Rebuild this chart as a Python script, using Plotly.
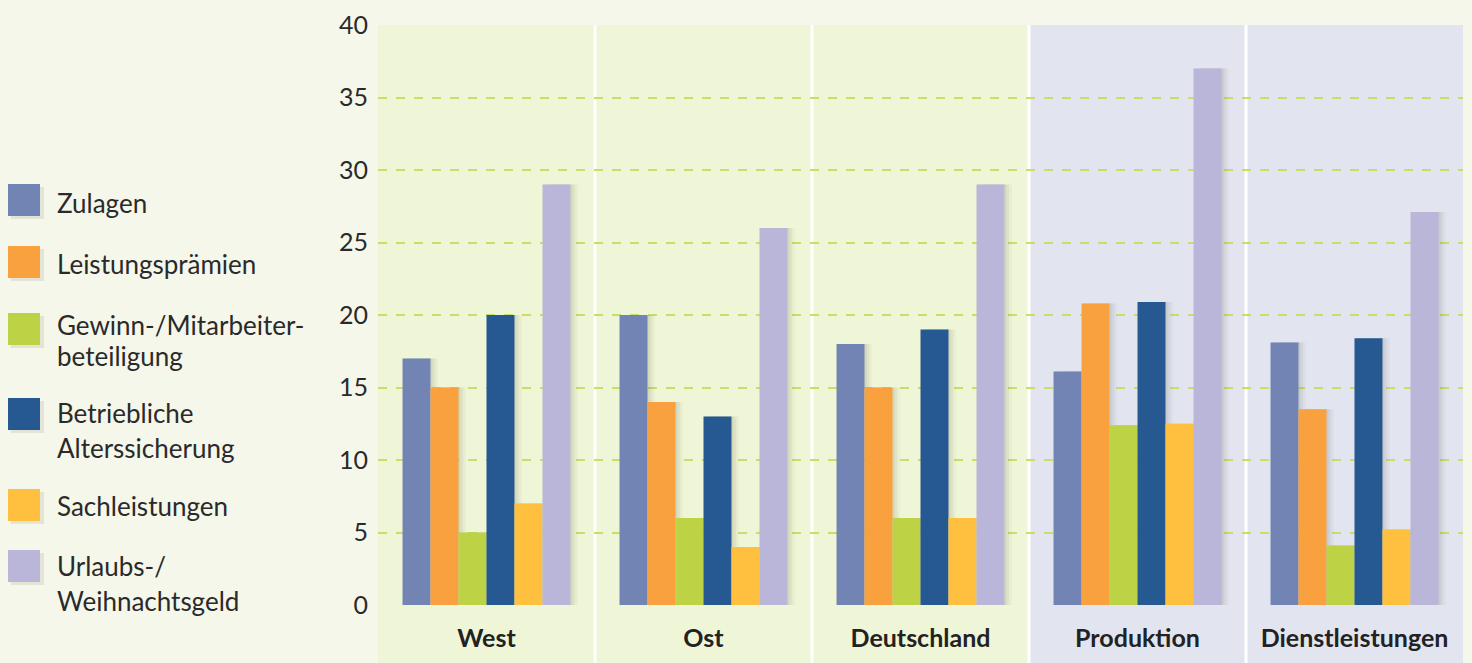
import plotly.graph_objects as go

categories = ["West", "Ost", "Deutschland", "Produktion", "Dienstleistungen"]
series_names = ["Zulagen", "Leistungsprämien", "Gewinn-/Mitarbeiter-\nbeteiligung",
                "Betriebliche\nAlterssicherung", "Sachleistungen", "Urlaubs-/\nWeihnachtsgeld"]
zulagen = [17, 20, 18, 16.1, 18.1]
leistungspraemien = [15, 14, 15, 20.8, 13.5]
gewinnbeteiligung = [5, 6, 6, 12.4, 4.1]
alterssicherung = [20, 13, 19, 20.9, 18.4]
sachleistungen = [7, 4, 6, 12.5, 5.2]
urlaubsgeld = [29, 26, 29, 37, 27.1]
series_values = [zulagen, leistungspraemien, gewinnbeteiligung, alterssicherung, sachleistungen, urlaubsgeld]
y_ticks = [0, 5, 10, 15, 20, 25, 30, 35, 40]

colors = ["#7284B4", "#F9A03F", "#BDD245", "#265891", "#FFC040", "#B9B6DA"]
FONT = "Lato, sans-serif"
W, H = 1472, 663
ML, MR, MT, MB = 378, 9, 25, 58
PH = H - MT - MB

bw = 0.129
fig = go.Figure()
n = len(series_values)
# soft shadows
for i, vals in enumerate(series_values):
    for d, a in [(0.010, 0.07), (0.022, 0.06), (0.034, 0.04)]:
        fig.add_trace(go.Bar(x=categories, y=vals, width=bw, offset=-n / 2 * bw + i * bw + d,
                             marker=dict(color=f"rgba(70,70,40,{a})", line=dict(width=0)),
                             hoverinfo="skip", showlegend=False))
for i, vals in enumerate(series_values):
    fig.add_trace(go.Bar(x=categories, y=vals, width=bw, offset=-n / 2 * bw + i * bw,
                         name=series_names[i].replace("\n", " "),
                         marker=dict(color=colors[i], line=dict(width=0)), showlegend=False))

shapes = []
bottom = -MB / PH
shapes.append(dict(type="rect", xref="x", yref="paper", x0=-0.5, x1=2.5, y0=bottom, y1=1,
                   fillcolor="#EFF5D7", line=dict(width=0), layer="below"))
shapes.append(dict(type="rect", xref="x", yref="paper", x0=2.5, x1=4.5, y0=bottom, y1=1,
                   fillcolor="#E2E5F0", line=dict(width=0), layer="below"))
for xb in [0.5, 1.5, 2.5, 3.5]:
    shapes.append(dict(type="line", xref="x", yref="paper", x0=xb, x1=xb, y0=bottom, y1=1,
                       line=dict(color="white", width=3), layer="below"))

# custom legend
def py(p):
    return (H - MB - p) / PH
def px(p):
    return (p - ML) / (W - ML - MR)

sq_centers = [200, 262, 329, 414, 505, 566]
text_lines_y = [[203], [264], [325, 356], [413, 448], [506], [566, 601]]
annotations = []
for i, name in enumerate(series_names):
    c = sq_centers[i]
    shapes.append(dict(type="rect", xref="paper", yref="paper", x0=px(11), x1=px(44),
                       y0=py(c + 19), y1=py(c - 13), fillcolor="rgba(70,70,40,0.10)", line=dict(width=0)))
    shapes.append(dict(type="rect", xref="paper", yref="paper", x0=px(8), x1=px(40),
                       y0=py(c + 16), y1=py(c - 16), fillcolor=colors[i], line=dict(width=0)))
    for line, ly in zip(name.split("\n"), text_lines_y[i]):
        annotations.append(dict(xref="paper", yref="paper", x=px(55), y=py(ly), text=line,
                                showarrow=False, xanchor="left", yanchor="middle",
                                font=dict(family=FONT, size=26, color="#2a2a2a")))

fig.update_layout(
    width=W, height=H, margin=dict(l=ML, r=MR, t=MT, b=MB),
    paper_bgcolor="#F5F7EA", plot_bgcolor="rgba(0,0,0,0)",
    barmode="overlay", showlegend=False,
    shapes=shapes, annotations=annotations,
    xaxis=dict(range=[-0.5, 4.5], showgrid=False, zeroline=False, showline=False, ticks="",
               tickfont=dict(family=FONT, size=25, color="#222222", weight="bold"),
               ticklabelstandoff=16),
    yaxis=dict(range=[0, 40], tickvals=y_ticks, showgrid=True, gridcolor="#C9DD6A",
               griddash="dash", gridwidth=1.5, zeroline=False, showline=False, ticks="",
               tickfont=dict(family=FONT, size=25, color="#2a2a2a"), ticklabelstandoff=9),
)
fig.write_html("out.html", config={"displayModeBar": False})
with open("out.html", "r", encoding="utf-8") as f:
    html = f.read()
html = html.replace("<head>", "<head><style>html,body{margin:0;padding:0;background:#F5F7EA;}</style>", 1)
with open("out.html", "w", encoding="utf-8") as f:
    f.write(html)
